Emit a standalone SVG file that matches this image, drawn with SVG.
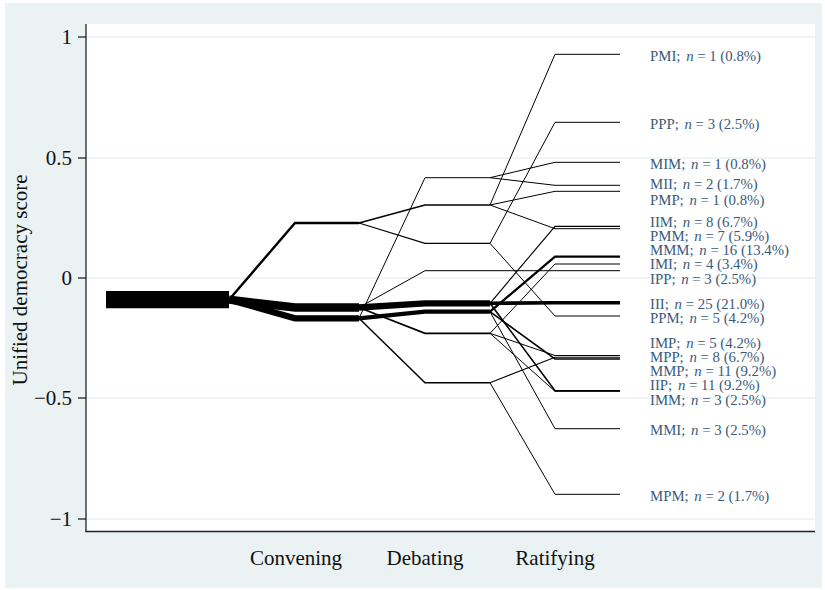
<svg xmlns="http://www.w3.org/2000/svg" width="825" height="590" viewBox="0 0 825 590">
<style>
.ax{font-family:"Liberation Serif","Times New Roman",serif;font-size:21px;fill:#111}
.lb{font-family:"Liberation Serif","Times New Roman",serif;font-size:14.8px;fill:#3a5a7c}
.lb tspan{font-style:italic}
.grid{stroke:#eaf2f3;stroke-width:1.5}
.seq{fill:none;stroke:#000;stroke-linejoin:miter;stroke-linecap:butt}
</style>
<rect x="0" y="0" width="825" height="590" fill="#fff"/>
<rect id="outer" x="5" y="3" width="817" height="585" fill="#eaf2f3"/>
<rect id="plot" x="86" y="24" width="729" height="507" fill="#fff"/>
<g id="grid">
<line class="grid" x1="86" y1="37" x2="815" y2="37"/>
<line class="grid" x1="86" y1="158" x2="815" y2="158"/>
<line class="grid" x1="86" y1="278" x2="815" y2="278"/>
<line class="grid" x1="86" y1="398" x2="815" y2="398"/>
<line class="grid" x1="86" y1="519" x2="815" y2="519"/>
</g>
<g id="axes" stroke="#222" stroke-width="1.3">
<line x1="86" y1="24" x2="86" y2="532"/>
<line x1="85.4" y1="531.5" x2="815" y2="531.5"/>
<line x1="78" y1="37" x2="86" y2="37"/>
<line x1="78" y1="158" x2="86" y2="158"/>
<line x1="78" y1="278" x2="86" y2="278"/>
<line x1="78" y1="398" x2="86" y2="398"/>
<line x1="78" y1="519" x2="86" y2="519"/>
</g>
<g id="ticklabels" class="ax" text-anchor="end">
<text x="72" y="44">1</text>
<text x="72" y="165">0.5</text>
<text x="72" y="285">0</text>
<text x="72" y="405">−0.5</text>
<text x="72" y="526">−1</text>
</g>
<text id="ytitle" class="ax" text-anchor="middle" transform="translate(27,280) rotate(-90)">Unified democracy score</text>
<g id="xlabels" class="ax" text-anchor="middle">
<text x="296" y="565">Convening</text>
<text x="425" y="565">Debating</text>
<text x="555" y="565">Ratifying</text>
</g>
<g id="connectors" class="seq">
<path d="M106,299.7 H229" stroke-width="17.3"/>
<path d="M229,299.7 L295,223 H359" stroke-width="2.4"/>
<path d="M229,299.7 L295,307.5 H359" stroke-width="8.4"/>
<path d="M229,299.7 L295,318.3 H359" stroke-width="6.2"/>
<path d="M359,318.3 L425,177.7 H490" stroke-width="1"/>
<path d="M359,223 L425,205 H490" stroke-width="1.3"/>
<path d="M359,223 L425,243.3 H490" stroke-width="1.15"/>
<path d="M359,307.5 L425,270.7 H490" stroke-width="1"/>
<path d="M359,307.5 L425,303.3 H490" stroke-width="6.3"/>
<path d="M359,318.3 L425,311.7 H490" stroke-width="4.3"/>
<path d="M359,307.5 L425,333.3 H490" stroke-width="1.7"/>
<path d="M359,318.3 L425,382.7 H490" stroke-width="1.45"/>
<path d="M490,205 L555,54.3 H620" stroke-width="1"/>
<path d="M490,243.3 L555,122.3 H620" stroke-width="1"/>
<path d="M490,177.7 L555,162.3 H620" stroke-width="1"/>
<path d="M490,177.7 L555,185.3 H620" stroke-width="1"/>
<path d="M490,205 L555,191.3 H620" stroke-width="1"/>
<path d="M490,303.3 L555,226.3 H620" stroke-width="1.15"/>
<path d="M490,205 L555,228.7 H620" stroke-width="1"/>
<path d="M490,311.7 L555,256.7 H620" stroke-width="2.3"/>
<path d="M490,333.3 L555,264 H620" stroke-width="1"/>
<path d="M490,270.7 L555,270.7 H620" stroke-width="1"/>
<path d="M490,303.3 L555,302.7 H620" stroke-width="3.6"/>
<path d="M490,243.3 L555,316 H620" stroke-width="1"/>
<path d="M490,333.3 L555,355.5 H620" stroke-width="1"/>
<path d="M490,382.7 L555,357.2 H620" stroke-width="1.15"/>
<path d="M490,311.7 L555,359 H620" stroke-width="1.6"/>
<path d="M490,303.3 L555,390.7 H620" stroke-width="1.6"/>
<path d="M490,333.3 L555,391.3 H620" stroke-width="1"/>
<path d="M490,311.7 L555,428.7 H620" stroke-width="1"/>
<path d="M490,382.7 L555,494.3 H620" stroke-width="1"/>
</g>
<g id="labels" class="lb">
<text x="650" y="60.5">PMI; <tspan dx="2">n</tspan> = 1 (0.8%)</text>
<text x="650" y="129">PPP; <tspan dx="2">n</tspan> = 3 (2.5%)</text>
<text x="650" y="168.5">MIM; <tspan dx="2">n</tspan> = 1 (0.8%)</text>
<text x="650" y="189">MII; <tspan dx="2">n</tspan> = 2 (1.7%)</text>
<text x="650" y="204.5">PMP; <tspan dx="2">n</tspan> = 1 (0.8%)</text>
<text x="650" y="227.3">IIM; <tspan dx="2">n</tspan> = 8 (6.7%)</text>
<text x="650" y="241">PMM; <tspan dx="2">n</tspan> = 7 (5.9%)</text>
<text x="650" y="255">MMM; <tspan dx="2">n</tspan> = 16 (13.4%)</text>
<text x="650" y="269.3">IMI; <tspan dx="2">n</tspan> = 4 (3.4%)</text>
<text x="650" y="284">IPP; <tspan dx="2">n</tspan> = 3 (2.5%)</text>
<text x="650" y="308.5">III; <tspan dx="2">n</tspan> = 25 (21.0%)</text>
<text x="650" y="322.5">PPM; <tspan dx="2">n</tspan> = 5 (4.2%)</text>
<text x="650" y="348">IMP; <tspan dx="2">n</tspan> = 5 (4.2%)</text>
<text x="650" y="362.3">MPP; <tspan dx="2">n</tspan> = 8 (6.7%)</text>
<text x="650" y="376">MMP; <tspan dx="2">n</tspan> = 11 (9.2%)</text>
<text x="650" y="390.3">IIP; <tspan dx="2">n</tspan> = 11 (9.2%)</text>
<text x="650" y="405">IMM; <tspan dx="2">n</tspan> = 3 (2.5%)</text>
<text x="650" y="435">MMI; <tspan dx="2">n</tspan> = 3 (2.5%)</text>
<text x="650" y="500.5">MPM; <tspan dx="2">n</tspan> = 2 (1.7%)</text>
</g>
</svg>
